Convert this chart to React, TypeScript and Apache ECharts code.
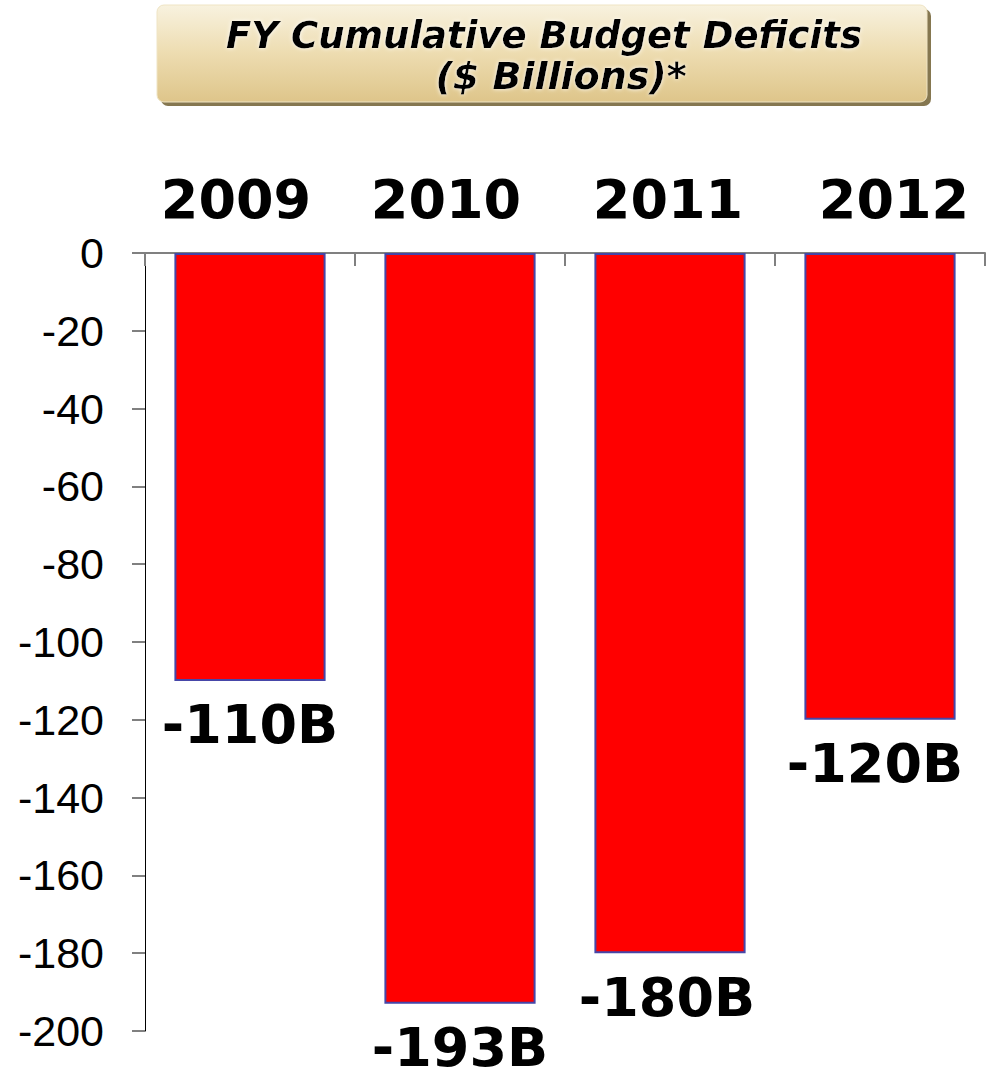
import React, { useEffect, useRef } from "react";
import * as echarts from "echarts";

const categories = ["2009", "2010", "2011", "2012"];
const deficits = [-110, -193, -180, -120];
const valueLabels = ["-110B", "-193B", "-180B", "-120B"];
const yMin = -200;
const yMax = 0;
const yInterval = 20;
const titleLines = ["FY Cumulative Budget Deficits", "($ Billions)*"];

const catShift = [-14, -14, -2, 14];
const valShift = [0, 0, -3, -5];

function richFor(shifts: number[], fontSize: number, lineHeight: number) {
  const rich: Record<string, any> = {};
  shifts.forEach((s, i) => {
    rich["c" + i] = {
      fontFamily: "'DejaVu Sans'",
      fontWeight: "bold",
      fontSize,
      lineHeight,
      color: "#000000",
      padding: s < 0 ? [0, -2 * s, 0, 0] : [0, 0, 0, 2 * s],
    };
  });
  return rich;
}

export default function App() {
  const ref = useRef<HTMLDivElement>(null);
  useEffect(() => {
    if (!ref.current) return;
    const chart = echarts.init(ref.current, null, { renderer: "svg" });
    chart.setOption({
      animation: false,
      backgroundColor: "#ffffff",
      graphic: [
        {
          type: "rect",
          shape: { x: 161, y: 9, width: 770, height: 97, r: 7 },
          style: { fill: "#857750" },
        },
        {
          type: "rect",
          shape: { x: 157, y: 5, width: 770, height: 97, r: 7 },
          style: {
            fill: new echarts.graphic.LinearGradient(0, 0, 0, 1, [
              { offset: 0, color: "#f8f2df" },
              { offset: 0.5, color: "#eddcb0" },
              { offset: 1, color: "#dec58a" },
            ]),
            stroke: "#efe4c4",
            lineWidth: 1,
          },
        },
        {
          type: "text",
          x: 544,
          y: 35,
          style: {
            text: titleLines[0],
            font: "italic bold 37px 'DejaVu Sans'",
            fill: "#000000",
            align: "center",
            verticalAlign: "middle",
            textShadowColor: "rgba(255,255,255,0.95)",
            textShadowBlur: 4,
          },
        },
        {
          type: "text",
          x: 561,
          y: 76,
          style: {
            text: titleLines[1],
            font: "italic bold 38px 'DejaVu Sans'",
            fill: "#000000",
            align: "center",
            verticalAlign: "middle",
            textShadowColor: "rgba(255,255,255,0.95)",
            textShadowBlur: 4,
          },
        },
      ],
      grid: { left: 145, right: 7, top: 253, bottom: 37, containLabel: false },
      xAxis: {
        type: "category",
        data: categories,
        position: "top",
        axisLine: { show: true, lineStyle: { color: "#808080", width: 2 } },
        axisTick: { show: true, inside: true, length: 13, lineStyle: { color: "#808080", width: 2 } },
        axisLabel: {
          show: true,
          margin: 28,
          formatter: (v: string, i: number) => "{c" + i + "|" + v + "}",
          rich: richFor(catShift, 54, 52),
        },
        splitLine: { show: false },
      },
      yAxis: {
        type: "value",
        min: yMin,
        max: yMax,
        interval: yInterval,
        axisLine: { show: true, lineStyle: { color: "#000000", width: 1 } },
        axisTick: { show: true, length: 13, lineStyle: { color: "#808080", width: 2 } },
        axisLabel: {
          margin: 41,
          fontFamily: "'Liberation Sans', Arial",
          fontSize: 43,
          color: "#000000",
        },
        splitLine: { show: false },
      },
      series: [
        {
          type: "bar",
          data: deficits,
          barWidth: "72%",
          itemStyle: { color: "#ff0000", borderColor: "#4646a8", borderWidth: 2 },
          label: {
            show: true,
            position: "bottom",
            distance: 24,
            formatter: (p: any) => "{c" + p.dataIndex + "|" + valueLabels[p.dataIndex] + "}",
            rich: richFor(valShift, 54, 40),
          },
        },
      ],
    });
    return () => chart.dispose();
  }, []);
  return (
    <div
      ref={ref}
      style={{ position: "absolute", left: 0, top: 0, width: 992, height: 1068 }}
    />
  );
}
